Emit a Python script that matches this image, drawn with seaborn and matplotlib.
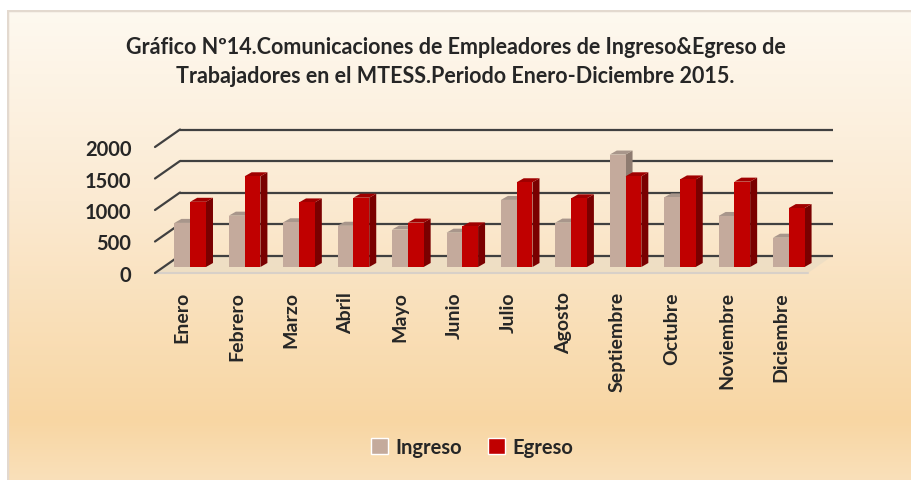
import numpy as np
import pandas as pd
import matplotlib
matplotlib.use("Agg")
import matplotlib.pyplot as plt
import seaborn as sns
from matplotlib.patches import Polygon, Patch
from matplotlib.transforms import ScaledTranslation

# ─── DATA ─────────────────────────────────────────────────────
meses = ["Enero", "Febrero", "Marzo", "Abril", "Mayo", "Junio", "Julio",
         "Agosto", "Septiembre", "Octubre", "Noviembre", "Diciembre"]
ingreso = [700, 815, 710, 655, 595, 545, 1065, 705, 1785, 1105, 810, 465]
egreso = [1035, 1440, 1025, 1100, 705, 645, 1345, 1090, 1440, 1390, 1355, 935]
series = ["Ingreso", "Egreso"]
colores = {"Ingreso": "#C4AA9C", "Egreso": "#C00000"}
lados = {"Ingreso": "#8E7B70", "Egreso": "#7A0000"}
techos = {"Ingreso": "#A8968B", "Egreso": "#A00000"}
yticks = [0, 500, 1000, 1500, 2000]
titulo = ("Gráfico Nº14.Comunicaciones de Empleadores de Ingreso&Egreso de\n"
          "Trabajadores en el MTESS.Periodo Enero-Diciembre 2015.")

df = pd.DataFrame({
    "mes": meses * 2,
    "valor": ingreso + egreso,
    "serie": [series[0]] * len(meses) + [series[1]] * len(meses),
})

# ─── FIGURE ───────────────────────────────────────────────────
sns.set_style("white")
plt.rcParams["font.family"] = ["Lato", "DejaVu Sans"]
plt.rcParams["font.weight"] = "bold"

W, H, DPI = 911, 481, 100
fig = plt.figure(figsize=(W / DPI, H / DPI), dpi=DPI)
fig.patch.set_facecolor("white")

# gradient background panel
bg = fig.add_axes([7 / W, 0, (W - 7) / W, (H - 11) / H], zorder=-10)
stops_y = [0, 190, 410, 470]
stops_c = np.array([[254, 249, 240], [251, 234, 210], [248, 214, 163], [250, 224, 186]]) / 255
yy = np.arange(470)
grad = np.stack([np.interp(yy, stops_y, stops_c[:, k]) for k in range(3)], axis=-1)
bg.imshow(grad[:, None, :], aspect="auto", extent=[0, 1, 0, 1])
bg.plot([0, 0, 1], [0, 1, 1], color="#E3D9CF", lw=2.5, transform=bg.transAxes)
bg.set_axis_off()

ax = fig.add_axes([155 / W, 1 - 274 / H, 653 / W, 126 / H])
ax.set_facecolor("none")

sns.barplot(data=df, x="mes", y="valor", hue="serie", palette=colores,
            width=0.58, gap=0, saturation=1, linewidth=0, legend=False, ax=ax)
ax.set_xlim(-0.5, 11.5)
ax.set_ylim(0, 2000)

# pixel -> data units
ux = 12 / 653
uy = 2000 / 126

# back wall + floor (fake 3D)
bx, by = 25 * ux, 17.5 * uy
ax.fill([-0.5, 11.5, 11.5 + bx, -0.5 + bx], [0, 0, by, by],
        color="#EADCC4", alpha=0.7, lw=0, zorder=0.5, clip_on=False)
for v in yticks:
    ax.plot([-0.5 + bx, 11.5 + bx], [v + by, v + by], color="#404040",
            lw=1.6, zorder=1, clip_on=False, solid_capstyle="butt")
    ax.plot([-0.5, -0.5 + bx], [v, v + by], color="#404040", lw=1.6,
            zorder=1, clip_on=False)
ax.plot([-0.5, 11.5], [0, 0], color="#D8D0C8", lw=1.5, zorder=0.6, clip_on=False)

# bars sit at mid depth, with side and top faces
shift = ScaledTranslation(8 / DPI, 6 / DPI, fig.dpi_scale_trans)
dx, dy = 7 * ux, 4 * uy
n = len(meses)
for i, bar in enumerate(ax.patches[:2 * n]):
    s = series[i // n]
    x, w, h = bar.get_x(), bar.get_width(), bar.get_height()
    base = 2.5 if s == "Ingreso" else 2.8
    bar.set_transform(ax.transData + shift)
    bar.set_zorder(base + 0.1)
    bar.set_clip_on(False)
    side = Polygon([(x + w, 0), (x + w + dx, dy), (x + w + dx, h + dy), (x + w, h)],
                   closed=True, fc=lados[s], lw=0, zorder=base,
                   transform=ax.transData + shift, clip_on=False)
    top = Polygon([(x, h), (x + w, h), (x + w + dx, h + dy), (x + dx, h + dy)],
                  closed=True, fc=techos[s], lw=0, zorder=base,
                  transform=ax.transData + shift, clip_on=False)
    ax.add_patch(side)
    ax.add_patch(top)

# axes text
ax.set_xlabel("")
ax.set_ylabel("")
ax.set_yticks(yticks)
ax.set_yticklabels([str(v) for v in yticks], fontsize=14.5, fontweight="bold")
ax.tick_params(axis="y", length=0, pad=17)
ax.tick_params(axis="x", length=0, pad=13)
ax.set_xticks(range(n))
ax.set_xticklabels(meses, rotation=90, fontsize=14, fontweight="bold")
sns.despine(ax=ax, left=True, bottom=True)
ax.grid(False)

fig.text(0.5, 1 - 62 / H, titulo, ha="center", va="center", fontsize=15.5,
         fontweight="bold", linespacing=1.45)

handles = [Patch(facecolor=colores[s], label=s) for s in series]
fig.legend(handles=handles, loc="center", bbox_to_anchor=(472 / W, 1 - 448 / H),
           ncol=2, frameon=False, prop={"size": 14.5, "weight": "bold"},
           handlelength=0.85, handleheight=0.85, handletextpad=0.35,
           columnspacing=1.3)

fig.savefig("out.png", dpi=DPI)
